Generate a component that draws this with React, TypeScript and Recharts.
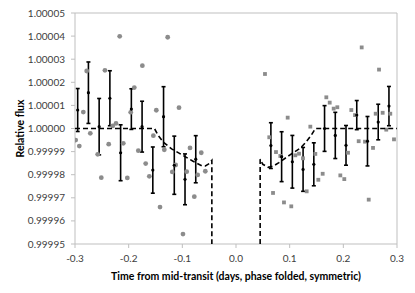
import React from 'react';
import { ComposedChart, Scatter, XAxis, YAxis, ErrorBar, ReferenceLine, Label } from 'recharts';

// Raw data, before transit (circles)
const rawLeftTime = [-0.2987, -0.292, -0.2845, -0.2782, -0.2715, -0.2577, -0.251, -0.2442, -0.2372, -0.2297, -0.2236, -0.2167, -0.21, -0.2025, -0.1962, -0.1895, -0.182, -0.1745, -0.1683, -0.1615, -0.154, -0.1485, -0.1416, -0.1336, -0.1273, -0.1187, -0.1124, -0.1062, -0.0988, -0.0919, -0.0857, -0.0777, -0.0714, -0.0647, -0.0572];
const rawLeftFlux = [0.999995, 0.9999924, 1.0000071, 1.0000249, 0.9999979, 0.9999888, 0.9999787, 1.0000252, 0.9999932, 1.0000011, 1.0000022, 1.0000399, 0.9999936, 0.9999786, 1.000007, 1.0000177, 0.9999904, 1.0000272, 0.9999848, 0.9999793, 0.9999969, 1.0000079, 0.999966, 0.9999908, 1.0000395, 0.9999812, 0.9999842, 1.000009, 0.9999543, 0.9999813, 0.9999916, 0.9999705, 0.9999799, 0.9999895, 0.9999815];

// Raw data, after transit (squares)
const rawRightTime = [0.054, 0.062, 0.069, 0.0745, 0.0826, 0.0894, 0.0963, 0.103, 0.1105, 0.1174, 0.1248, 0.1317, 0.1385, 0.1478, 0.1534, 0.1615, 0.1683, 0.1746, 0.182, 0.1888, 0.1944, 0.2018, 0.2087, 0.2149, 0.2218, 0.2286, 0.2342, 0.2404, 0.2473, 0.2553, 0.2603, 0.2665, 0.2733, 0.28, 0.2875, 0.2944];
const rawRightFlux = [1.0000236, 0.9999962, 0.9999721, 0.9999898, 0.9999881, 0.999968, 1.0000047, 0.9999663, 0.9999884, 0.9999891, 0.9999871, 0.9999728, 1.0000008, 0.999989, 0.9999778, 0.9999804, 1.0000135, 1.0000112, 1.0000086, 1.0000092, 0.9999797, 0.9999781, 0.9999895, 1.000008, 1.0000058, 0.9999945, 1.0000351, 0.9999943, 0.9999692, 0.9999916, 1.0000064, 1.0000255, 1.0000068, 0.9999995, 1.0000064, 0.9999953];

// Binned data with error bars
const binLeftTime = [-0.295, -0.275, -0.255, -0.235, -0.215, -0.195, -0.175, -0.155, -0.135, -0.115, -0.095, -0.075];
const binLeftFlux = [1.000008, 1.0000155, 1.0000008, 1.0000131, 0.9999895, 1.0000084, 1.0000008, 0.999982, 1.0000051, 0.9999841, 0.999978, 0.9999867];
const binLeftErr = [0.0000093, 0.0000133, 0.0000122, 0.0000119, 0.0000121, 0.0000088, 0.000011, 0.00001, 0.000013, 0.0000126, 0.000011, 0.0000102];

const binRightTime = [0.065, 0.085, 0.105, 0.125, 0.145, 0.165, 0.185, 0.205, 0.225, 0.245, 0.265, 0.285];
const binRightFlux = [0.9999926, 0.9999878, 0.9999856, 0.9999823, 0.9999845, 1.0, 0.999997, 0.9999927, 1.0000058, 0.9999945, 1.0000028, 1.0000097];
const binRightErr = [0.0000099, 0.0000108, 0.0000114, 0.0000095, 0.0000093, 0.0000099, 0.00001, 0.0000086, 0.0000063, 0.0000107, 0.0000077, 0.0000085];

// Model curve (dashed)
const modelLeftTime = [-0.3, -0.152, -0.145, -0.135, -0.12, -0.1, -0.08, -0.065, -0.057, -0.05, -0.045, -0.045];
const modelLeftFlux = [1.0, 1.0, 0.999997, 0.999994, 0.9999912, 0.9999885, 0.9999858, 0.999984, 0.9999838, 0.9999848, 0.9999862, 0.99995];
const modelRightTime = [0.045, 0.045, 0.05, 0.06, 0.07, 0.08, 0.1, 0.12, 0.13, 0.14, 0.148, 0.3];
const modelRightFlux = [0.99995, 0.9999867, 0.9999845, 0.9999832, 0.9999838, 0.9999852, 0.9999885, 0.9999915, 0.999994, 0.999997, 1.0, 1.0];

// Axis ticks
const xTicks = [-0.3, -0.2, -0.1, 0.0, 0.1, 0.2, 0.3];
const yTicks = [0.99995, 0.99996, 0.99997, 0.99998, 0.99999, 1.0, 1.00001, 1.00002, 1.00003, 1.00004, 1.00005];

const zip = (xs: number[], ys: number[], es?: number[]) =>
  xs.map((x, i) => (es ? { x, y: ys[i], err: es[i] } : { x, y: ys[i] }));

const rawLeft = zip(rawLeftTime, rawLeftFlux);
const rawRight = zip(rawRightTime, rawRightFlux);
const binLeft = zip(binLeftTime, binLeftFlux, binLeftErr);
const binRight = zip(binRightTime, binRightFlux, binRightErr);
const modelLeft = zip(modelLeftTime, modelLeftFlux);
const modelRight = zip(modelRightTime, modelRightFlux);

const GRAY = '#8c8c8c';
const AXIS = '#bfbfbf';
const FONT = 'Lato, "Open Sans", sans-serif';

const Circle = (p: any) => <circle cx={p.cx} cy={p.cy} r={2.4} fill={GRAY} />;
const Square = (p: any) => <rect x={p.cx - 1.9} y={p.cy - 1.9} width={3.8} height={3.8} fill={GRAY} />;
const Dot = (p: any) => <circle cx={p.cx} cy={p.cy} r={1.6} fill="#000" />;
const NoShape = () => <g />;

const XTitle = (props: any) => {
  const vb = props.viewBox || {};
  return (
    <text
      x={vb.x + vb.width / 2}
      y={vb.y + 36}
      textAnchor="middle"
      fontFamily={FONT}
      fontWeight={700}
      fontSize={10.5}
      fill="#000"
    >
      Time from mid-transit (days, phase folded, symmetric)
    </text>
  );
};

export default function App() {
  return (
    <div style={{ position: 'absolute', left: 0, top: 0, width: 415, height: 293, background: '#fff' }}>
      <ComposedChart width={415} height={293} margin={{ top: 13, right: 18, bottom: 0, left: 0 }}>
        <XAxis
          type="number"
          dataKey="x"
          domain={[-0.3, 0.3]}
          ticks={xTicks}
          interval={0}
          allowDataOverflow
          height={49}
          tickFormatter={(v: number) => v.toFixed(1)}
          tick={{ fontSize: 10, fontFamily: FONT, fill: '#404040' }}
          tickSize={4}
          tickMargin={7}
          axisLine={{ stroke: AXIS }}
          tickLine={{ stroke: AXIS }}
        >
          <Label content={XTitle} />
        </XAxis>
        <YAxis
          type="number"
          dataKey="y"
          domain={[0.99995, 1.00005]}
          ticks={yTicks}
          interval={0}
          allowDataOverflow
          width={75}
          tickFormatter={(v: number) => v.toFixed(5)}
          tick={{ fontSize: 10, fontFamily: FONT, fill: '#404040' }}
          tickSize={4}
          tickMargin={6}
          axisLine={{ stroke: AXIS }}
          tickLine={{ stroke: AXIS }}
        >
          <Label
            value="Relative flux"
            angle={-90}
            position="insideLeft"
            offset={20}
            style={{ textAnchor: 'middle', fontWeight: 700, fontSize: 10.5, fontFamily: FONT, fill: '#000' }}
          />
        </YAxis>
        <ReferenceLine y={1.00005} stroke={AXIS} />
        <ReferenceLine x={0.3} stroke={AXIS} />
        <Scatter data={rawLeft} shape={Circle} isAnimationActive={false} />
        <Scatter data={rawRight} shape={Square} isAnimationActive={false} />
        <Scatter
          data={modelLeft}
          shape={NoShape}
          line={{ stroke: '#000', strokeWidth: 1.6, strokeDasharray: '5 3' }}
          isAnimationActive={false}
        />
        <Scatter
          data={modelRight}
          shape={NoShape}
          line={{ stroke: '#000', strokeWidth: 1.6, strokeDasharray: '5 3' }}
          isAnimationActive={false}
        />
        <Scatter data={binLeft} shape={Dot} isAnimationActive={false}>
          <ErrorBar dataKey="err" direction="y" width={2} stroke="#000" strokeWidth={1.6} />
        </Scatter>
        <Scatter data={binRight} shape={Dot} isAnimationActive={false}>
          <ErrorBar dataKey="err" direction="y" width={2} stroke="#000" strokeWidth={1.6} />
        </Scatter>
      </ComposedChart>
    </div>
  );
}
